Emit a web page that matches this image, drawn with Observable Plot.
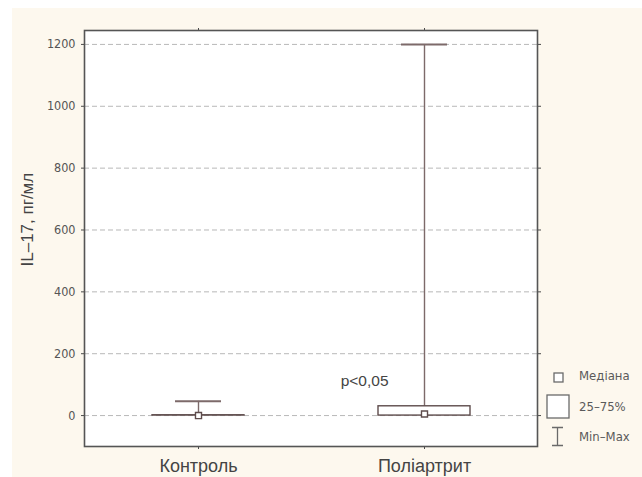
<!DOCTYPE html>
<html>
<head>
<meta charset="utf-8">
<script src="https://cdn.jsdelivr.net/npm/d3@7"></script>
<script src="https://cdn.jsdelivr.net/npm/@observablehq/plot@0.6"></script>
<style>
  html, body { margin: 0; padding: 0; background: #ffffff; }
  #wrap { position: absolute; left: 12px; top: 8px; width: 630px; height: 469px; background: #fdf8ee; }
  #legend { position: absolute; left: 0; top: 0; font-family: "Liberation Sans Narrow", "DejaVu Sans Condensed", sans-serif; font-size: 13px; color: #5a5a5a; }
  .li { position: absolute; white-space: nowrap; }
</style>
</head>
<body>
<div id="wrap"><div id="chart"></div><div id="legend"></div></div>
<script>
// ---- data ----
const groups = ["Контроль", "Поліартрит"];
const minVals = [0, 0];
const q1Vals = [0, 0];
const q3Vals = [1, 30];
const maxVals = [46, 1200];
const medians = [0, 5];
const yTicks = [0, 200, 400, 600, 800, 1000, 1200];
const yLabel = "IL–17, пг/мл";
const note = [{group: "Поліартрит", value: 113, text: "p<0,05"}];
const legendItems = ["Медіана", "25–75%", "Min–Max"];

const rows = groups.map((g, i) => ({group: g, min: minVals[i], q1: q1Vals[i], q3: q3Vals[i], max: maxVals[i], median: medians[i]}));

const boxStroke = "#5e4c4c";
const whiskerStroke = "#7d6a6a";
const blank = () => "";

const chart = Plot.plot({
  width: 630,
  height: 469,
  marginLeft: 72,
  marginRight: 105,
  marginTop: 22,
  marginBottom: 31,
  style: {background: "transparent", fontFamily: "Liberation Sans Narrow, DejaVu Sans Condensed, sans-serif", color: "#4a4a4a"},
  x: {type: "band", domain: groups, padding: 0, label: null},
  y: {domain: [-100, 1245], label: null},
  marks: [
    Plot.frame({fill: "white", stroke: "none"}),
    Plot.gridY(yTicks, {stroke: "#b8b8b8", strokeOpacity: 1, strokeDasharray: "5,3"}),
    Plot.axisY(yTicks, {anchor: "left", tickSize: 3, tickPadding: 6, fontSize: 12.5, label: null, tickFormat: d => String(d), fill: "#555"}),
    Plot.axisY(yTicks, {anchor: "right", tickSize: 3, tickFormat: blank, label: null}),
    Plot.axisX({anchor: "bottom", tickSize: 3, tickPadding: 10, fontSize: 18, fontFamily: "Liberation Sans, Arial, sans-serif", label: null, fill: "#444"}),
    Plot.axisX({anchor: "top", tickSize: 3, tickFormat: blank, label: null}),
    Plot.ruleX(rows, {x: "group", y1: "min", y2: "max", stroke: whiskerStroke, strokeWidth: 1.4}),
    Plot.tickY(rows, {x: "group", y: "max", stroke: whiskerStroke, strokeWidth: 2, insetLeft: 90, insetRight: 90}),
    Plot.rectY(rows, {x: "group", y1: "q1", y2: "q3", fill: "white", stroke: boxStroke, strokeWidth: 1.4, insetLeft: 67, insetRight: 67}),
    Plot.dot(rows, {x: "group", y: "median", symbol: "square", r: 3.4, fill: "white", stroke: boxStroke, strokeWidth: 1.4}),
    Plot.text(note, {x: "group", y: "value", text: "text", textAnchor: "end", dx: -36, fontSize: 15.5, fontFamily: "Liberation Sans, Arial, sans-serif", fill: "#444"}),
    Plot.text([yLabel], {frameAnchor: "left", rotate: -90, dx: -57, dy: 28, fontSize: 17, fontFamily: "Liberation Sans, Arial, sans-serif", fill: "#444"}),
    Plot.frame({stroke: "#555", strokeWidth: 1.6})
  ]
});
document.getElementById("chart").appendChild(chart);

// ---- legend (HTML, icons via inline svg) ----
const lg = document.getElementById("legend");
const icons = [
  '<svg width="12" height="12" style="position:absolute;left:541px;top:364px"><rect x="1" y="1" width="9" height="9" fill="white" stroke="#6a6a6a" stroke-width="1.3"/></svg>',
  '<svg width="26" height="26" style="position:absolute;left:534px;top:386px"><rect x="1" y="1" width="22" height="23" fill="white" stroke="#6a6a6a" stroke-width="1.3"/></svg>',
  '<svg width="14" height="22" style="position:absolute;left:539px;top:418px"><path d="M1,1.5H12M6.5,1.5V19.5M1,19.5H12" fill="none" stroke="#6a6a6a" stroke-width="1.3"/></svg>'
];
const textTops = [360, 391, 421];
legendItems.forEach((t, i) => {
  lg.insertAdjacentHTML("beforeend", icons[i]);
  const d = document.createElement("div");
  d.className = "li";
  d.style.left = "567px";
  d.style.top = textTops[i] + "px";
  d.textContent = t;
  lg.appendChild(d);
});
</script>
</body>
</html>
